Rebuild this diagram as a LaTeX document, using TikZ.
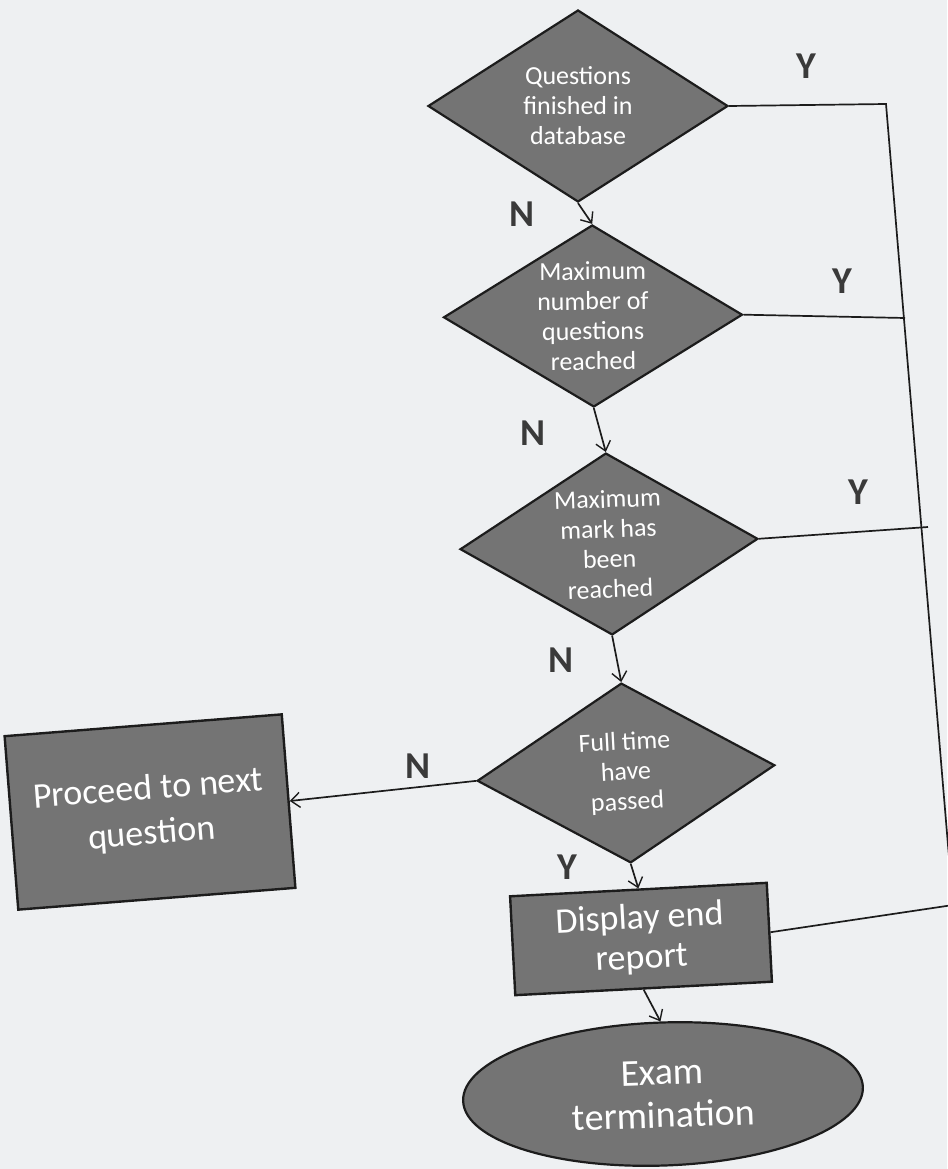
\documentclass[tikz,border=0pt]{standalone}
\usepackage{fontspec}
\setmainfont{Carlito}
\usetikzlibrary{shapes.geometric,arrows.meta}

\definecolor{paper}{RGB}{238,240,242}
\definecolor{boxfill}{RGB}{116,116,116}
\definecolor{ink}{RGB}{28,28,28}
\definecolor{labelink}{RGB}{58,58,58}

\begin{document}
\begin{tikzpicture}[x=1pt,y=-1pt,
  decision/.style={diamond, aspect=1.65, draw=ink, line width=2.2pt, fill=boxfill,
    inner sep=-12pt, text=white, align=center, font=\fontsize{26}{30}\selectfont},
  process/.style={rectangle, draw=ink, line width=2.4pt, fill=boxfill,
    inner sep=0pt, text=white, align=center},
  terminal/.style={ellipse, draw=ink, line width=2.2pt, fill=boxfill,
    inner sep=0pt, text=white, align=center},
  link/.style={draw=ink, line width=1.7pt},
  flow/.style={link, -{Straight Barb[length=9pt,width=15pt,line width=1.4pt]}},
  yn/.style={font=\fontsize{38}{38}\selectfont\bfseries, text=labelink}
]
% page
\fill[paper] (0,0) rectangle (947,1169);
\useasboundingbox (0,0) rectangle (947,1169);

% decisions
\node[decision, minimum width=300, minimum height=192] (q1) at (578,106)
  {Questions\\finished in\\database};
\node[decision, minimum width=299, minimum height=182, rotate=0.5] (q2) at (593,316)
  {Maximum\\number of\\questions\\reached};
\node[decision, minimum width=298, minimum height=182, rotate=2] (q3) at (609,544)
  {Maximum\\mark has\\been\\reached};
\node[decision, minimum width=298, minimum height=180, rotate=3] (q4) at (626,773)
  {Full time\\have\\passed};

% actions and end
\node[process, minimum width=278, minimum height=174, rotate=4.5,
  font=\fontsize{36}{45}\selectfont] (next) at (150,812) {Proceed to next\\question};
\node[process, minimum width=257, minimum height=99, rotate=3,
  font=\fontsize{36}{40}\selectfont] (report) at (641,939) {Display end\\report};
\node[terminal, minimum width=400, minimum height=143, rotate=2,
  font=\fontsize{38}{43}\selectfont] (exam) at (663,1094) {Exam\\termination};

% the "yes" bus on the right
\coordinate (c1) at (886,104);
\coordinate (c4) at (953,905);
\coordinate (j2) at (905,318);
\coordinate (j3) at (928,527);
\draw[link] (q1.east) -- (c1) -- (c4) -- (report.east);
\draw[link] (q2.east) -- (j2);
\draw[link] (q3.east) -- (j3);

% main flow
\draw[flow] (q1.south) -- (q2.north);
\draw[flow] (q2.south) -- (q3.north);
\draw[flow] (q3.south) -- (q4.north);
\draw[flow] (q4.south) -- (report.north);
\draw[flow] (report.south) -- (exam.north);
\draw[flow] (q4.west) -- (next.east);

% branch labels
\node[yn] (y1) at (806,66) {Y};
\node[yn] (n1) at (522,214) {N};
\node[yn] (y2) at (842,281) {Y};
\node[yn] (n2) at (533,433) {N};
\node[yn] (y3) at (858,492) {Y};
\node[yn] (n3) at (561,660) {N};
\node[yn] (n4) at (418,766) {N};
\node[yn] (y4) at (567,867) {Y};
\end{tikzpicture}
\end{document}
